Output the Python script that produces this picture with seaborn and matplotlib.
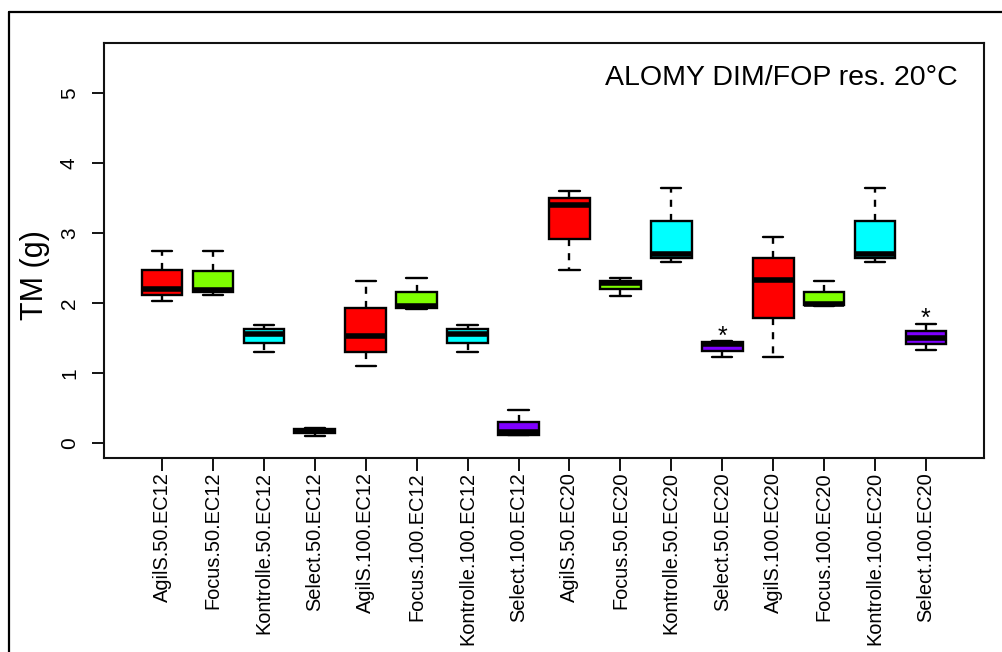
import numpy as np
import pandas as pd
import matplotlib
matplotlib.use('Agg')
import matplotlib.pyplot as plt
from matplotlib.lines import Line2D
import seaborn as sns

#groups in plot order
groups = ['AgilS.50.EC12', 'Focus.50.EC12', 'Kontrolle.50.EC12', 'Select.50.EC12',
          'AgilS.100.EC12', 'Focus.100.EC12', 'Kontrolle.100.EC12', 'Select.100.EC12',
          'AgilS.50.EC20', 'Focus.50.EC20', 'Kontrolle.50.EC20', 'Select.50.EC20',
          'AgilS.100.EC20', 'Focus.100.EC20', 'Kontrolle.100.EC20', 'Select.100.EC20']

#box statistics (g)
whisker_low = [2.03, 2.11, 1.30, 0.10, 1.09, 1.91, 1.30, 0.11,
               2.47, 2.10, 2.58, 1.22, 1.23, 1.95, 2.58, 1.32]
q1 = [2.11, 2.15, 1.42, 0.14, 1.30, 1.92, 1.42, 0.11,
      2.92, 2.20, 2.64, 1.31, 1.78, 1.97, 2.64, 1.41]
median = [2.20, 2.18, 1.55, 0.17, 1.53, 1.96, 1.55, 0.15,
          3.40, 2.29, 2.70, 1.41, 2.33, 1.99, 2.70, 1.50]
q3 = [2.47, 2.46, 1.62, 0.20, 1.92, 2.16, 1.62, 0.30,
      3.50, 2.32, 3.17, 1.44, 2.64, 2.16, 3.17, 1.60]
whisker_high = [2.74, 2.74, 1.69, 0.21, 2.32, 2.36, 1.69, 0.46,
                3.60, 2.35, 3.65, 1.45, 2.95, 2.32, 3.65, 1.70]

#groups marked with a star
starred = ['Select.50.EC20', 'Select.100.EC20']

colors = ['#FF0000', '#7FFF00', '#00FFFF', '#7F00FF'] * 4

#long table: five points per group reproduce min/q1/median/q3/max
rows = []
for i, g in enumerate(groups):
    for v in [whisker_low[i], q1[i], median[i], q3[i], whisker_high[i]]:
        rows.append({'group': g, 'TM': v})
df = pd.DataFrame(rows)

sns.set_style('white')
plt.rcParams['font.family'] = ['Liberation Sans', 'DejaVu Sans']
plt.rcParams['text.color'] = 'black'
plt.rcParams['xtick.color'] = 'black'
plt.rcParams['ytick.color'] = 'black'

fig = plt.figure(figsize=(10.03, 6.52), dpi=100)
ax = fig.add_axes([104 / 1003, 1 - 458 / 652, (984 - 104) / 1003, (458 - 43) / 652])

sns.boxplot(data=df, x='group', y='TM', hue='group', order=groups, hue_order=groups,
            palette=colors, saturation=1, legend=False, whis=(0, 100), width=0.8,
            showfliers=False, linecolor='black', linewidth=1.7,
            medianprops=dict(color='black', linewidth=4, solid_capstyle='butt'),
            whiskerprops=dict(linestyle=(0, (3, 3))),
            ax=ax)

#stars above the upper whisker
for g in starred:
    i = groups.index(g)
    ax.text(i, whisker_high[i] + 0.07, '*', ha='center', va='center', fontsize=18,
            color='black')

ax.set_xlim(-0.5 - 0.64, len(groups) - 0.5 + 0.64)
ax.set_ylim(-0.22, 5.72)
ax.set_yticks([0, 1, 2, 3, 4, 5])
ax.set_xlabel('')
ax.set_ylabel('')
ax.tick_params(axis='y', labelrotation=90, length=9, width=1.3, pad=9, labelsize=15,
               direction='out', left=True, colors='black')
ax.tick_params(axis='x', labelrotation=90, length=9, width=1.3, pad=1, labelsize=14.4,
               direction='out', bottom=True, colors='black')
for lab in ax.get_yticklabels():
    lab.set_va('center')
for s in ax.spines.values():
    s.set_visible(True)
    s.set_color('#111111')
    s.set_linewidth(1.5)

ax.text(0.97, 0.915, 'ALOMY DIM/FOP res. 20\u00b0C', transform=ax.transAxes,
        ha='right', va='center', fontsize=20.5, color='black')
fig.text(35 / 1003, 1 - 275 / 652, 'TM (g)', rotation=90, ha='center', va='center',
         fontsize=22, color='black')

#outer frame (left and top edges visible)
fig.add_artist(Line2D([9 / 1003, 9 / 1003], [0, 1 - 12 / 652], transform=fig.transFigure,
                      color='black', linewidth=1.6))
fig.add_artist(Line2D([9 / 1003, 1], [1 - 12 / 652, 1 - 12 / 652], transform=fig.transFigure,
                      color='black', linewidth=1.6))

fig.savefig('out.png', dpi=100)
